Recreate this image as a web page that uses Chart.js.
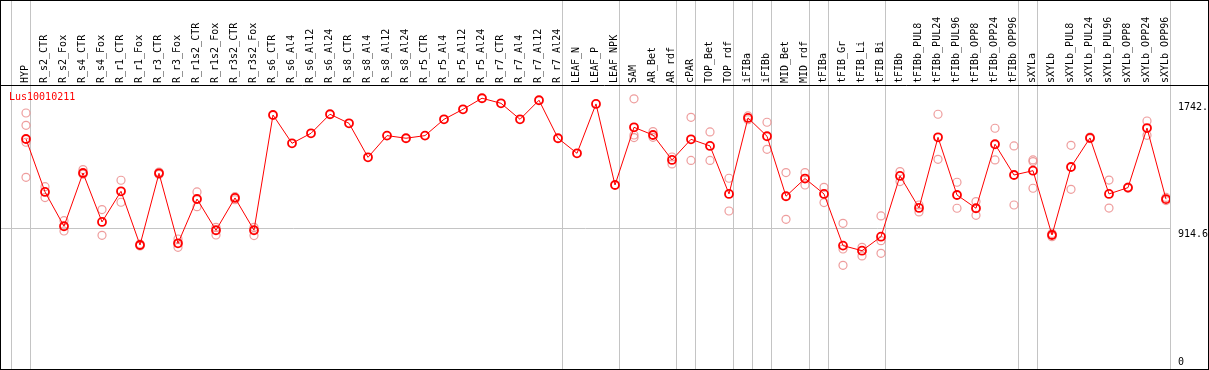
<!DOCTYPE html>
<html>
<head>
<meta charset="utf-8">
<script src="https://cdn.jsdelivr.net/npm/chart.js@4"></script>
<style>
html,body{margin:0;padding:0;background:#fff;}
canvas{display:block;}
</style>
</head>
<body>
<canvas id="c" width="1209" height="370"></canvas>
<script>
const geneName = "Lus10010211";
const categories = ["HYP","R_s2_CTR","R_s2_Fox","R_s4_CTR","R_s4_Fox","R_r1_CTR","R_r1_Fox","R_r3_CTR","R_r3_Fox","R_r1s2_CTR","R_r1s2_Fox","R_r3s2_CTR","R_r3s2_Fox","R_s6_CTR","R_s6_Al4","R_s6_Al12","R_s6_Al24","R_s8_CTR","R_s8_Al4","R_s8_Al12","R_s8_Al24","R_r5_CTR","R_r5_Al4","R_r5_Al12","R_r5_Al24","R_r7_CTR","R_r7_Al4","R_r7_Al12","R_r7_Al24","LEAF_N","LEAF_P","LEAF_NPK","SAM","AR_Bet","AR_rdf","cPAR","TOP_Bet","TOP_rdf","iFIBa","iFIBb","MID_Bet","MID_rdf","tFIBa","tFIB_Gr","tFIB_Li","tFIB_Bi","tFIBb","tFIBb_PUL8","tFIBb_PUL24","tFIBb_PUL96","tFIBb_OPP8","tFIBb_OPP24","tFIBb_OPP96","sXYLa","sXYLb","sXYLb_PUL8","sXYLb_PUL24","sXYLb_PUL96","sXYLb_OPP8","sXYLb_OPP24","sXYLb_OPP96"];
const meanValues = [1495,1151,928,1274,956,1155,806,1272,817,1105,902,1112,902,1651,1467,1532,1656,1597,1376,1517,1500,1517,1623,1688,1760,1727,1623,1747,1500,1402,1723,1196,1571,1521,1359,1493,1450,1138,1632,1513,1123,1238,1138,802,769,860,1255,1047,1506,1131,1045,1461,1261,1289,871,1313,1502,1138,1179,1566,1104];
const rep1 = [1664,1185,964,1296,1036,1227,812,1280,845,1151,921,1120,921,null,null,null,null,null,null,null,null,null,null,null,null,null,null,null,null,null,null,null,1756,1543,1378,1636,1541,1240,1645,1604,1277,1277,1181,947,791,995,1283,1066,1656,1214,1088,1565,1450,1359,860,1454,1508,1228,1183,1612,1115];
const rep2 = [1584,1114,897,1266,869,1084,800,1265,791,1055,871,1100,867,null,null,null,null,null,null,null,null,null,null,null,null,null,null,null,null,null,null,null,1521,1506,1333,1356,1356,1027,1620,1428,973,1196,1082,780,735,834,1218,1021,1363,1045,999,1359,1066,1348,880,1168,1498,1046,1175,1519,1095];
const rep3 = [1474,null,null,null,null,null,null,null,null,null,null,null,null,null,null,null,null,null,null,null,null,null,null,null,null,null,null,null,null,null,null,null,1504,null,null,null,null,null,null,null,null,null,null,674,null,752,null,null,null,null,null,null,null,1175,null,null,null,null,null,null,null];
const rep4 = [1246,null,null,null,null,null,null,null,null,null,null,null,null,null,null,null,null,null,null,null,null,null,null,null,null,null,null,null,null,null,null,null,null,null,null,null,null,null,null,null,null,null,null,null,null,null,null,null,null,null,null,null,null,null,null,null,null,null,null,null,null];
const groupEnds = [-1,0,28,31,34,35,37,38,39,41,42,45,52,53,60];
const yTickValues = [0, 914.6, 1742];
const yTickLabels = ["0", "914.6", "1742."];
const yMax = 1846;

const FONT = "DejaVu Sans Mono";
const toPts = arr => arr.map((v,i)=> v==null ? null : {x:i, y:v}).filter(p=>p);

const decor = {
  id:'decor',
  beforeDraw(chart){
    const c = chart.ctx;
    c.save(); c.fillStyle='#fff'; c.fillRect(0,0,chart.width,chart.height); c.restore();
  },
  beforeDatasetsDraw(chart){
    const c = chart.ctx, xs = chart.scales.x, a = chart.chartArea;
    c.save();
    c.strokeStyle = '#c4c4c4'; c.lineWidth = 1;
    groupEnds.forEach(g=>{
      const px = Math.round(xs.getPixelForValue(g + 0.22)) + 0.5;
      c.beginPath(); c.moveTo(px, 0); c.lineTo(px, a.bottom); c.stroke();
    });
    c.restore();
  },
  afterDraw(chart){
    const c = chart.ctx, ys = chart.scales.y, a = chart.chartArea;
    c.save();
    c.font = "10px '" + FONT + "'";
    c.fillStyle = '#000'; c.textAlign = 'left';
    yTickValues.forEach((v,i)=>{
      const py = ys.getPixelForValue(v);
      if (v === 0) { c.textBaseline = 'bottom'; c.fillText(yTickLabels[i], a.right + 8, py - 2); }
      else { c.textBaseline = 'top'; c.fillText(yTickLabels[i], a.right + 8, py + 1); }
    });
    c.fillStyle = '#ff0000'; c.textBaseline = 'middle';
    c.fillText(geneName, 9, 97);
    c.strokeStyle = '#000'; c.lineWidth = 1;
    c.strokeRect(0.5, 0.5, chart.width - 1, Math.round(a.bottom));
    c.beginPath(); c.moveTo(0, Math.round(a.top)+0.5); c.lineTo(chart.width, Math.round(a.top)+0.5); c.stroke();
    c.restore();
  }
};

const repStyle = {
  type:'scatter', showLine:false, pointStyle:'circle', pointRadius:4,
  pointBorderColor:'rgba(235,140,140,0.85)', pointBackgroundColor:'rgba(0,0,0,0)', pointBorderWidth:1.2, order:2
};

new Chart(document.getElementById('c'), {
  type:'line',
  data:{
    datasets:[
      Object.assign({label:'rep1', data:toPts(rep1)}, repStyle),
      Object.assign({label:'rep2', data:toPts(rep2)}, repStyle),
      Object.assign({label:'rep3', data:toPts(rep3)}, repStyle),
      Object.assign({label:'rep4', data:toPts(rep4)}, repStyle),
      {label:geneName, data:toPts(meanValues), borderColor:'#ff0000', borderWidth:1, tension:0,
       pointStyle:'circle', pointRadius:4, pointBorderColor:'#ff0000', pointBackgroundColor:'rgba(0,0,0,0)', pointBorderWidth:1.8, order:1}
    ]
  },
  options:{
    responsive:false, animation:false,
    layout:{autoPadding:false, padding:{left:1, top:0, right:0, bottom:1}},
    plugins:{legend:{display:false}, tooltip:{enabled:false}},
    scales:{
      x:{
        type:'linear', position:'top', min:-1.3158, max:60.2105,
        afterBuildTicks: s => { s.ticks = categories.map((_,i)=>({value:i})); },
        afterFit: s => { s.height = 85; s.paddingLeft = 0; s.paddingRight = 0; },
        grid:{display:false, drawTicks:false}, border:{display:false},
        ticks:{autoSkip:false, maxRotation:90, minRotation:90, padding:2, labelOffset:11, color:'#000',
          font:{family:FONT, size:10}, callback:(v)=>categories[v]}
      },
      y:{
        type:'linear', position:'right', min:0, max:yMax,
        afterBuildTicks: s => { s.ticks = yTickValues.map(v=>({value:v})); },
        afterFit: s => { s.width = 39; s.paddingTop = 0; s.paddingBottom = 0; },
        grid:{drawTicks:false, color: ctx => (ctx.tick && ctx.tick.value === 914.6) ? '#c4c4c4' : 'rgba(0,0,0,0)'},
        border:{display:false},
        ticks:{display:false}
      }
    }
  },
  plugins:[decor]
});
</script>
</body>
</html>
